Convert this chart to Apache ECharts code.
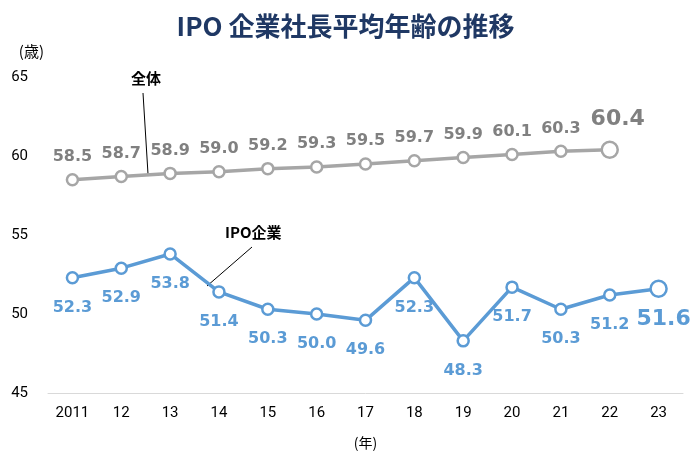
<!DOCTYPE html>
<html>
<head>
<meta charset="utf-8">
<script src="https://cdn.jsdelivr.net/npm/echarts@6/dist/echarts.min.js"></script>
<style>
html, body { margin: 0; padding: 0; background: #fff; }
#main { width: 691px; height: 455px; }
</style>
</head>
<body>
<div id="main"></div>
<script>
var years = ['2011', '12', '13', '14', '15', '16', '17', '18', '19', '20', '21', '22', '23'];
var allAges = [58.5, 58.7, 58.9, 59.0, 59.2, 59.3, 59.5, 59.7, 59.9, 60.1, 60.3, 60.4];
var ipoAges = [52.3, 52.9, 53.8, 51.4, 50.3, 50.0, 49.6, 52.3, 48.3, 51.7, 50.3, 51.2, 51.6];

var grey = '#a6a6a6';
var greyText = '#808080';
var blue = '#5b9bd5';
var labelFont = '"DejaVu Sans", Verdana, sans-serif';

// last point of each series is drawn bigger
function buildData(values, bigOffset) {
    return values.map(function (v, i) {
        if (i < values.length - 1) {
            return v;
        }
        return {
            value: v,
            symbolSize: 16,
            label: { fontSize: 22, offset: bigOffset }
        };
    });
}

var chart = echarts.init(document.getElementById('main'));
var option = {
    backgroundColor: '#fff',
    title: {
        text: 'IPO 企業社長平均年齢の推移',
        left: 'center',
        top: 8,
        textStyle: {
            color: '#1f3864',
            fontSize: 26,
            fontWeight: 'bold',
            fontFamily: '"Noto Sans CJK JP", sans-serif'
        }
    },
    grid: {
        left: 48,
        right: 8,
        top: 77,
        bottom: 57
    },
    xAxis: {
        type: 'category',
        data: years,
        name: '(年)',
        nameLocation: 'middle',
        nameGap: 43,
        nameTextStyle: {
            color: '#000',
            fontSize: 14,
            fontFamily: '"Liberation Sans Narrow", "Noto Sans CJK JP", sans-serif'
        },
        axisLine: { lineStyle: { color: '#d9d9d9', width: 1 } },
        axisTick: { show: false },
        axisLabel: {
            color: '#000',
            fontSize: 15,
            margin: 13,
            fontFamily: '"Liberation Sans Narrow", Roboto, sans-serif'
        }
    },
    yAxis: {
        type: 'value',
        min: 45,
        max: 65,
        interval: 5,
        name: '(歳)',
        nameLocation: 'end',
        nameGap: 18,
        nameTextStyle: {
            color: '#000',
            fontSize: 15,
            align: 'right',
            padding: [0, 4, 0, 0],
            fontFamily: '"Liberation Sans Narrow", "Noto Sans CJK JP", sans-serif'
        },
        splitLine: { show: false },
        axisLine: { show: false },
        axisTick: { show: false },
        axisLabel: {
            color: '#000',
            fontSize: 15,
            margin: 20,
            fontFamily: '"Liberation Sans Narrow", Roboto, sans-serif'
        }
    },
    series: [
        {
            name: '全体',
            type: 'line',
            data: buildData(allAges, [8, -2]),
            symbol: 'circle',
            symbolSize: 11,
            lineStyle: { color: grey, width: 3.5 },
            itemStyle: { color: '#fff', borderColor: grey, borderWidth: 2.5 },
            label: {
                show: true,
                position: 'top',
                distance: 8,
                color: greyText,
                fontSize: 16,
                fontWeight: 'bold',
                fontFamily: labelFont,
                formatter: function (p) { return p.value.toFixed(1); }
            },
            z: 3
        },
        {
            name: 'IPO企業',
            type: 'line',
            data: buildData(ipoAges, [5, -5]),
            symbol: 'circle',
            symbolSize: 11,
            lineStyle: { color: blue, width: 3.5 },
            itemStyle: { color: '#fff', borderColor: blue, borderWidth: 2.5 },
            label: {
                show: true,
                position: 'bottom',
                distance: 15,
                color: blue,
                fontSize: 16,
                fontWeight: 'bold',
                fontFamily: labelFont,
                formatter: function (p) { return p.value.toFixed(1); }
            },
            z: 3
        }
    ],
    graphic: [
        {
            type: 'text',
            left: 131,
            top: 71,
            style: { text: '全体', fill: '#000', font: 'bold 15px "Noto Sans CJK JP", sans-serif' }
        },
        {
            type: 'line',
            shape: { x1: 143, y1: 93, x2: 148, y2: 174 },
            style: { stroke: '#000', lineWidth: 1 }
        },
        {
            type: 'text',
            left: 225,
            top: 225,
            style: { text: 'IPO企業', fill: '#000', font: 'bold 15px "Noto Sans CJK JP", sans-serif' }
        },
        {
            type: 'line',
            shape: { x1: 252, y1: 247, x2: 207, y2: 286 },
            style: { stroke: '#000', lineWidth: 1 }
        }
    ]
};
chart.setOption(option);
</script>
</body>
</html>
